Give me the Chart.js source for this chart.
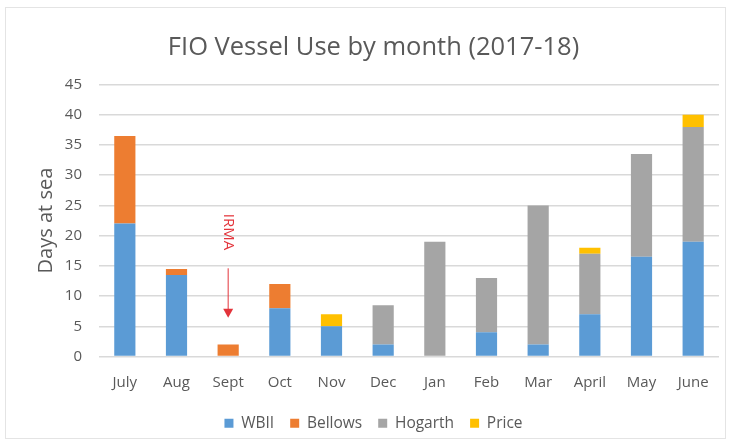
<!DOCTYPE html>
<html>
<head>
<meta charset="utf-8">
<script src="https://cdn.jsdelivr.net/npm/chart.js@4.4.1/dist/chart.umd.min.js"></script>
<style>
  html, body { margin: 0; padding: 0; background: #fff; }
  #wrap { position: relative; width: 731px; height: 447px; }
  #frame { position: absolute; left: 5px; top: 7px; width: 721px; height: 432px; border: 1px solid #e4e4e4; box-sizing: border-box; pointer-events: none; }
</style>
</head>
<body>
<div id="wrap">
  <canvas id="chartCanvas" width="731" height="447"></canvas>
  <div id="frame"></div>
</div>
<script>
const months = ["July", "Aug", "Sept", "Oct", "Nov", "Dec", "Jan", "Feb", "Mar", "April", "May", "June"];
const wbii    = [22, 13.5, 0, 8, 5, 2, 0, 4, 2, 7, 16.5, 19];
const bellows = [14.5, 1, 2, 4, 0, 0, 0, 0, 0, 0, 0, 0];
const hogarth = [0, 0, 0, 0, 0, 6.5, 19, 9, 23, 10, 17, 19];
const price   = [0, 0, 0, 0, 2, 0, 0, 0, 0, 1, 0, 2];
const yTicks  = [0, 5, 10, 15, 20, 25, 30, 35, 40, 45];

const grey = "#595959";
const font = "'Open Sans', sans-serif";

// red "IRMA" note with arrow over the Sept bar
const irmaNote = {
  id: "irmaNote",
  afterDatasetsDraw(chart) {
    const { ctx, scales: { x, y } } = chart;
    const cx = x.getPixelForValue(2);
    ctx.save();
    ctx.fillStyle = "#e3343b";
    ctx.translate(cx, y.getPixelForValue(20.6));
    ctx.rotate(Math.PI / 2);
    ctx.font = "15px " + font;
    ctx.textAlign = "center";
    ctx.textBaseline = "middle";
    ctx.fillText("IRMA", 0, 0);
    ctx.restore();

    ctx.save();
    ctx.strokeStyle = "#e3343b";
    ctx.fillStyle = "#e3343b";
    ctx.lineWidth = 1;
    const y1 = y.getPixelForValue(14.6);
    const y2 = y.getPixelForValue(6.4);
    ctx.beginPath();
    ctx.moveTo(cx, y1);
    ctx.lineTo(cx, y2 - 7);
    ctx.stroke();
    ctx.beginPath();
    ctx.moveTo(cx - 5, y2 - 9);
    ctx.lineTo(cx + 5, y2 - 9);
    ctx.lineTo(cx, y2);
    ctx.closePath();
    ctx.fill();
    ctx.restore();
  }
};

const ctx = document.getElementById("chartCanvas").getContext("2d");
new Chart(ctx, {
  type: "bar",
  data: {
    labels: months,
    datasets: [
      { label: "WBII", data: wbii, backgroundColor: "#5B9BD5" },
      { label: "Bellows", data: bellows, backgroundColor: "#ED7D31" },
      { label: "Hogarth", data: hogarth, backgroundColor: "#A5A5A5" },
      { label: "Price", data: price, backgroundColor: "#FFC000" },
    ],
  },
  options: {
    responsive: false,
    animation: false,
    datasets: { bar: { categoryPercentage: 1, barPercentage: 0.41 } },
    layout: { padding: { left: 19, right: 3, top: 0, bottom: 6 } },
    plugins: {
      title: {
        display: true,
        text: "FIO Vessel Use by month (2017-18)",
        color: grey,
        font: { family: font, size: 25.5, weight: "normal" },
        padding: { top: 32, bottom: 22 },
      },
      legend: {
        position: "bottom",
        labels: {
          color: grey,
          boxWidth: 9,
          boxHeight: 9,
          padding: 16,
          font: { family: font, size: 15.5 },
        },
      },
      tooltip: { enabled: false },
    },
    scales: {
      x: {
        stacked: true,
        grid: { display: false, drawTicks: false },
        border: { display: false },
        afterFit: axis => { axis.height = 43; },
        ticks: { color: grey, padding: 17, font: { family: font, size: 15 } },
      },
      y: {
        stacked: true,
        min: 0,
        max: 45,
        afterBuildTicks: axis => { axis.ticks = yTicks.map(v => ({ value: v })); },
        afterFit: axis => { axis.width = 80; },
        grid: { color: "#d9d9d9", lineWidth: 1.5, drawTicks: false },
        border: { display: false },
        ticks: { color: grey, padding: 17, font: { family: font, size: 15 } },
        title: {
          display: true,
          text: "Days at sea",
          color: grey,
          font: { family: font, size: 20 },
          padding: { top: 15, bottom: 0 },
        },
      },
      // empty right-hand spacer so the title and legend sit where the original has them
      y2: {
        position: "right",
        grid: { display: false },
        border: { display: false },
        ticks: { display: false },
        afterFit: axis => { axis.width = 9; },
      },
    },
  },
  plugins: [irmaNote],
});
</script>
</body>
</html>
